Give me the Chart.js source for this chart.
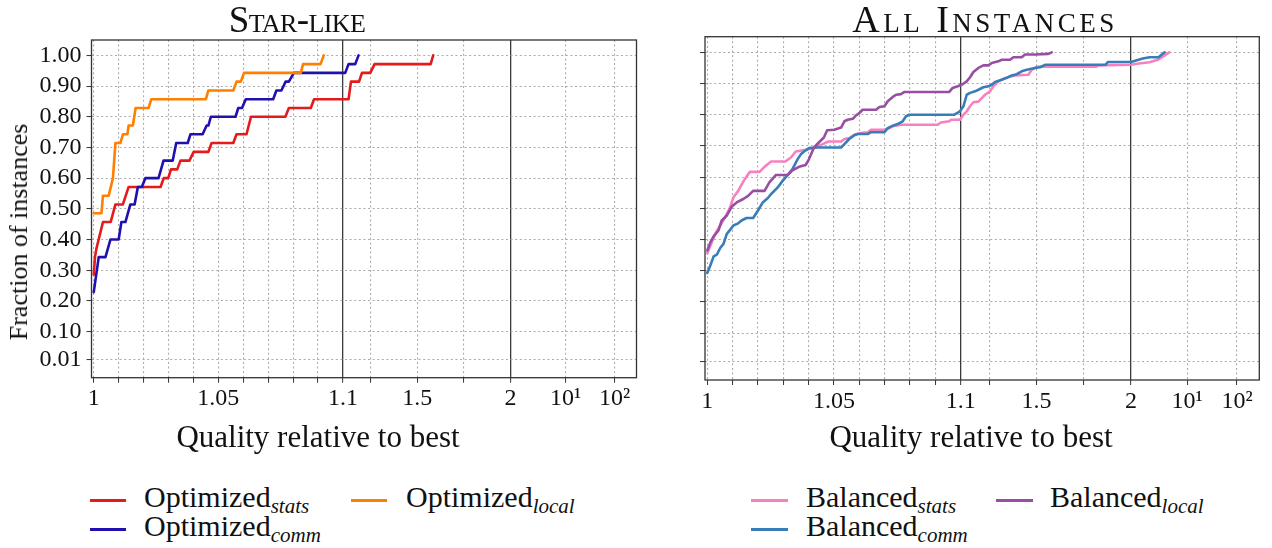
<!DOCTYPE html>
<html><head><meta charset="utf-8">
<script src="https://cdn.jsdelivr.net/npm/chart.js@4.4.1/dist/chart.umd.min.js"></script>
<style>
body{margin:0;width:1272px;height:548px;position:relative;background:#fff;font-family:"Liberation Serif","DejaVu Serif",serif;color:#111;overflow:hidden}
canvas{position:absolute;top:0}
.t{position:absolute;white-space:nowrap;line-height:1}
.title{font-variant:small-caps;font-size:37px;transform:translateX(-50%)}
.xlab{font-size:31px;transform:translateX(-50%)}
.ylab{font-size:26px;transform:translate(-50%,-50%) rotate(-90deg)}
.leg{font-size:30px}
.leg sub{font-style:italic;font-size:21px;vertical-align:-6px}
.sw{position:absolute;height:3px}
</style>
</head><body>
<canvas id="c1" width="650" height="420" style="left:0"></canvas>
<canvas id="c2" width="622" height="420" style="left:650px"></canvas>

<div class="t title" style="left:297px;top:1px;letter-spacing:-0.6px">Star-like</div>
<div class="t title" style="left:985px;top:0px;font-size:38px;letter-spacing:3.5px">All Instances</div>
<div class="t ylab" style="left:19px;top:232px">Fraction of instances</div>
<div class="t xlab" style="left:318px;top:421px">Quality relative to best</div>
<div class="t xlab" style="left:971px;top:421px">Quality relative to best</div>

<div class="sw" style="left:90px;top:499px;width:36px;background:#e41a1c"></div>
<div class="t leg" style="left:144px;top:482px">Optimized<sub>stats</sub></div>
<div class="sw" style="left:351px;top:499px;width:36px;background:#ff7f00"></div>
<div class="t leg" style="left:406px;top:482px">Optimized<sub>local</sub></div>
<div class="sw" style="left:90px;top:528px;width:36px;background:#2010b0"></div>
<div class="t leg" style="left:144px;top:511px">Optimized<sub>comm</sub></div>

<div class="sw" style="left:751px;top:499px;width:37px;background:#f781bf"></div>
<div class="t leg" style="left:806px;top:482px">Balanced<sub>stats</sub></div>
<div class="sw" style="left:996px;top:499px;width:37px;background:#984ea3"></div>
<div class="t leg" style="left:1050px;top:482px">Balanced<sub>local</sub></div>
<div class="sw" style="left:751px;top:528px;width:37px;background:#377eb8"></div>
<div class="t leg" style="left:806px;top:511px">Balanced<sub>comm</sub></div>

<script>
// ---------------- data ----------------
const X_TICKS = [1, 1.01, 1.02, 1.03, 1.04, 1.05, 1.06, 1.07, 1.08, 1.09, 1.1, 1.25, 1.5, 1.75, 2, 10, 100];
const X_TICK_LABELS = {1: '1', 1.05: '1.05', 1.1: '1.1', 1.5: '1.5', 2: '2', 10: '10\u00B9', 100: '10\u00B2'};
const X_SOLID = [1.1, 2];
const Y_TICKS = [0.01, 0.1, 0.2, 0.3, 0.4, 0.5, 0.6, 0.7, 0.8, 0.9, 1.0];

// Star-like (35 instances)
const optStatsX = [1, 1.0005, 1.0011, 1.0037, 1.0068, 1.0087, 1.0117, 1.014, 1.0268, 1.0281, 1.0299, 1.031, 1.0335, 1.0348, 1.0384, 1.0401, 1.046, 1.0473, 1.056, 1.0573, 1.0613, 1.0631, 1.0769, 1.0783, 1.0871, 1.0884, 1.1301, 1.1431, 1.1866, 1.2022, 1.2468, 1.27, 1.5713, 1.585];
const optStatsY = [0.2857, 0.3429, 0.3714, 0.4571, 0.4571, 0.5143, 0.5143, 0.5714, 0.5714, 0.6, 0.6, 0.6286, 0.6286, 0.6571, 0.6571, 0.6857, 0.6857, 0.7143, 0.7143, 0.7429, 0.7429, 0.8, 0.8, 0.8286, 0.8286, 0.8571, 0.8571, 0.9143, 0.9143, 0.9429, 0.9429, 0.9714, 0.9714, 1.0];

const optCommX = [1, 1.002, 1.0047, 1.0067, 1.01, 1.0111, 1.0127, 1.0147, 1.0164, 1.0177, 1.0193, 1.0207, 1.026, 1.028, 1.0317, 1.0331, 1.0377, 1.0388, 1.0437, 1.0453, 1.046, 1.047, 1.0569, 1.058, 1.0595, 1.061, 1.072, 1.0733, 1.0753, 1.077, 1.0783, 1.0803, 1.1124, 1.1301, 1.166, 1.184];
const optCommY = [0.2286, 0.3429, 0.3429, 0.4, 0.4, 0.4571, 0.4571, 0.5143, 0.5143, 0.5714, 0.5714, 0.6, 0.6, 0.6571, 0.6571, 0.7143, 0.7143, 0.7429, 0.7429, 0.7714, 0.7714, 0.8, 0.8, 0.8286, 0.8286, 0.8571, 0.8571, 0.8857, 0.8857, 0.9143, 0.9143, 0.9429, 0.9429, 0.9714, 0.9714, 1.0];

const optLocalX = [1, 1.0031, 1.0037, 1.006, 1.0077, 1.0087, 1.0107, 1.0117, 1.0135, 1.014, 1.0157, 1.0168, 1.022, 1.0231, 1.045, 1.046, 1.056, 1.0573, 1.059, 1.0603, 1.0831, 1.084, 1.091, 1.0923];
const optLocalY = [0.4857, 0.4857, 0.5429, 0.5429, 0.6, 0.7143, 0.7143, 0.7429, 0.7429, 0.7714, 0.7714, 0.8286, 0.8286, 0.8571, 0.8571, 0.8857, 0.8857, 0.9143, 0.9143, 0.9429, 0.9429, 0.9714, 0.9714, 1.0];

// All instances
const balStatsX = [1, 1.0031, 1.0051, 1.007, 1.009, 1.0103, 1.0122, 1.0142, 1.0168, 1.0206, 1.0226, 1.0252, 1.0308, 1.033, 1.0349, 1.0388, 1.0427, 1.0466, 1.0479, 1.0528, 1.0541, 1.0561, 1.058, 1.0607, 1.0633, 1.0646, 1.0699, 1.0718, 1.0732, 1.0764, 1.0909, 1.0922, 1.0955, 1.0962, 1.0997, 1.1141, 1.1317, 1.1493, 1.1669, 1.1933, 1.2109, 1.2286, 1.255, 1.2726, 1.299, 1.3342, 1.3871, 1.4575, 1.4751, 1.4927, 1.5103, 1.817, 1.83, 2.0, 2.5, 3.4, 4.3, 6.0];
const balStatsY = [0.356, 0.418, 0.445, 0.471, 0.503, 0.535, 0.556, 0.586, 0.617, 0.617, 0.633, 0.65, 0.65, 0.663, 0.682, 0.688, 0.695, 0.71, 0.714, 0.714, 0.722, 0.725, 0.736, 0.741, 0.744, 0.752, 0.752, 0.757, 0.763, 0.768, 0.768, 0.775, 0.779, 0.784, 0.784, 0.8, 0.811, 0.827, 0.84, 0.842, 0.853, 0.864, 0.875, 0.891, 0.907, 0.918, 0.926, 0.928, 0.944, 0.95, 0.954, 0.954, 0.958, 0.96, 0.964, 0.968, 0.976, 1.0];

const balCommX = [1, 1.0012, 1.0025, 1.0038, 1.0051, 1.0064, 1.0077, 1.009, 1.0103, 1.0122, 1.0135, 1.0155, 1.0181, 1.02, 1.0219, 1.0239, 1.0252, 1.0278, 1.0297, 1.0317, 1.0336, 1.0356, 1.0369, 1.0382, 1.0401, 1.0427, 1.0528, 1.0541, 1.0561, 1.058, 1.0593, 1.0633, 1.0646, 1.0699, 1.0712, 1.0732, 1.0751, 1.0771, 1.0784, 1.0797, 1.0975, 1.0997, 1.1141, 1.1317, 1.1493, 1.1757, 1.1933, 1.2198, 1.2462, 1.2638, 1.2814, 1.3166, 1.343, 1.3695, 1.3959, 1.4223, 1.4487, 1.4927, 1.5191, 1.5455, 1.865, 1.878, 2.0, 2.8, 3.4, 4.4, 5.25];
const balCommY = [0.293, 0.317, 0.346, 0.352, 0.373, 0.386, 0.418, 0.431, 0.445, 0.452, 0.461, 0.469, 0.469, 0.493, 0.519, 0.533, 0.546, 0.567, 0.588, 0.607, 0.626, 0.657, 0.673, 0.682, 0.693, 0.695, 0.695, 0.706, 0.723, 0.734, 0.738, 0.738, 0.744, 0.744, 0.757, 0.765, 0.77, 0.779, 0.795, 0.8, 0.8, 0.811, 0.827, 0.864, 0.87, 0.875, 0.88, 0.888, 0.891, 0.896, 0.905, 0.912, 0.918, 0.926, 0.93, 0.939, 0.944, 0.95, 0.952, 0.96, 0.96, 0.969, 0.969, 0.98, 0.984, 0.984, 1.0];

const balLocalX = [1, 1.0012, 1.0025, 1.0044, 1.0057, 1.0077, 1.0096, 1.0116, 1.0142, 1.0161, 1.0181, 1.0226, 1.0245, 1.0271, 1.0317, 1.0336, 1.0362, 1.0388, 1.0401, 1.0421, 1.044, 1.046, 1.0473, 1.0501, 1.0528, 1.0541, 1.0554, 1.0574, 1.0587, 1.06, 1.0613, 1.0666, 1.0679, 1.0699, 1.0712, 1.0732, 1.0745, 1.0764, 1.0778, 1.0955, 1.0968, 1.0988, 1.1053, 1.1317, 1.1493, 1.1669, 1.1933, 1.2198, 1.2462, 1.2638, 1.299, 1.3166, 1.3607, 1.3783, 1.4223, 1.4399, 1.4927, 1.5632, 1.5808];
const balLocalY = [0.365, 0.391, 0.41, 0.429, 0.461, 0.477, 0.505, 0.519, 0.53, 0.54, 0.556, 0.556, 0.583, 0.607, 0.607, 0.622, 0.633, 0.639, 0.657, 0.695, 0.711, 0.727, 0.75, 0.752, 0.759, 0.779, 0.784, 0.787, 0.798, 0.805, 0.816, 0.816, 0.825, 0.827, 0.843, 0.857, 0.864, 0.866, 0.873, 0.873, 0.886, 0.891, 0.896, 0.907, 0.92, 0.937, 0.95, 0.958, 0.958, 0.966, 0.971, 0.976, 0.976, 0.984, 0.984, 0.993, 0.993, 0.995, 1.0];

// ---------------- piecewise x axis ----------------
const KX = [1, 1.1, 2, 10, 100];
const KU = [0, 10, 16.72, 18.93, 20.9];
const KLOG = [false, false, true, true];
const U_MIN = -0.09, U_MAX = 21.78;
function seg(i, v) { return KLOG[i] ? Math.log(v / KX[i]) / Math.log(KX[i + 1] / KX[i]) : (v - KX[i]) / (KX[i + 1] - KX[i]); }
function toU(v) {
  let i = 0;
  while (i < KX.length - 2 && v > KX[i + 1]) i++;
  return KU[i] + seg(i, v) * (KU[i + 1] - KU[i]);
}
function fromU(u) {
  let i = 0;
  while (i < KU.length - 2 && u > KU[i + 1]) i++;
  const t = (u - KU[i]) / (KU[i + 1] - KU[i]);
  return KLOG[i] ? KX[i] * Math.pow(KX[i + 1] / KX[i], t) : KX[i] + t * (KX[i + 1] - KX[i]);
}
class PiecewiseScale extends Chart.LinearScale {
  determineDataLimits() { this.min = fromU(U_MIN); this.max = fromU(U_MAX); }
  buildTicks() { return X_TICKS.map(v => ({value: v})); }
  getPixelForValue(v) { return this.getPixelForDecimal((toU(v) - U_MIN) / (U_MAX - U_MIN)); }
  getValueForPixel(p) { return fromU(U_MIN + this.getDecimalForPixel(p) * (U_MAX - U_MIN)); }
}
PiecewiseScale.id = 'piecewise';
PiecewiseScale.defaults = {};
Chart.register(PiecewiseScale);

const pts = (xs, ys) => xs.map((x, i) => ({x, y: ys[i]}));
const isSolid = c => c.tick && X_SOLID.includes(c.tick.value);
const TICK_FONT = {family: '"Liberation Serif", serif', size: 24};
const GRID_COLOR = '#ababab';

const framePlugin = {
  id: 'frame',
  afterDatasetsDraw(chart) {
    const {ctx, chartArea: a} = chart;
    ctx.save(); ctx.strokeStyle = '#333'; ctx.lineWidth = 1.3;
    ctx.strokeRect(a.left, a.top, a.right - a.left, a.bottom - a.top);
    ctx.restore();
  }
};

function makeChart(id, datasets, geo) {
  return new Chart(document.getElementById(id), {
    type: 'line',
    data: {datasets: datasets.map(d => ({
      label: d.label, data: pts(d.x, d.y), borderColor: d.color, borderWidth: 2.6,
      pointRadius: 0, tension: 0, fill: false, borderJoinStyle: 'round', borderCapStyle: 'round'
    }))},
    options: {
      responsive: false, animation: false, events: [],
      layout: {padding: {left: 0, top: geo.top, right: geo.right, bottom: 0}},
      plugins: {legend: {display: false}, tooltip: {enabled: false}, title: {display: false}},
      scales: {
        x: {
          type: 'piecewise',
          afterFit: s => { s.height = geo.xh; },
          ticks: {autoSkip: false, maxRotation: 0, padding: 2, color: '#111', font: TICK_FONT,
                  callback: v => X_TICK_LABELS[v] !== undefined ? X_TICK_LABELS[v] : ''},
          grid: {color: c => isSolid(c) ? '#3a3a3a' : GRID_COLOR, lineWidth: c => isSolid(c) ? 1.3 : 1.1,
                 tickColor: '#333', tickLength: 5, tickWidth: 1},
          border: {display: false, dash: c => isSolid(c) ? [] : [2, 2.6]}
        },
        y: {
          type: 'linear', min: -0.05, max: 1.05,
          afterFit: s => { s.width = geo.yw; },
          afterBuildTicks: s => { s.ticks = Y_TICKS.map(v => ({value: v})); },
          ticks: {padding: 5, color: '#111', font: TICK_FONT,
                  callback: v => geo.ylabels ? v.toFixed(2) : ''},
          grid: {color: GRID_COLOR, lineWidth: 1.1, tickColor: '#333', tickLength: 5, tickWidth: 1},
          border: {display: false, dash: c => c.tick ? [2, 2.6] : []}
        }
      }
    },
    plugins: [framePlugin]
  });
}

makeChart('c1', [
  {label: 'Optimized local', x: optLocalX, y: optLocalY, color: '#ff7f00'},
  {label: 'Optimized comm', x: optCommX, y: optCommY, color: '#2010b0'},
  {label: 'Optimized stats', x: optStatsX, y: optStatsY, color: '#e41a1c'}
], {top: 40, right: 13.5, xh: 42.3, yw: 91.5, ylabels: true});

makeChart('c2', [
  {label: 'Balanced local', x: balLocalX, y: balLocalY, color: '#984ea3'},
  {label: 'Balanced comm', x: balCommX, y: balCommY, color: '#377eb8'},
  {label: 'Balanced stats', x: balStatsX, y: balStatsY, color: '#f781bf'}
], {top: 36.7, right: 12.7, xh: 40, yw: 55, ylabels: false});
</script>
</body></html>
